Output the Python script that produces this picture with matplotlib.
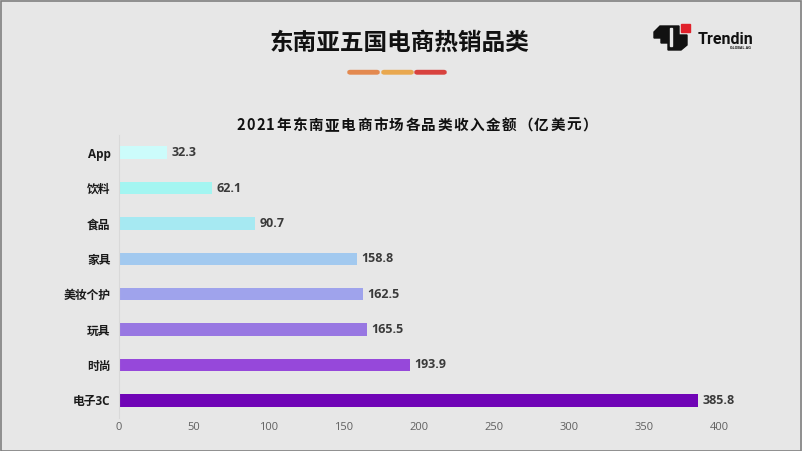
import matplotlib.pyplot as plt
from matplotlib.patches import Rectangle, FancyBboxPatch, Polygon

plt.rcParams['font.family'] = ['Noto Sans CJK SC', 'DejaVu Sans']

categories = ['App', '饮料', '食品', '家具', '美妆个护', '玩具', '时尚', '电子3C']
values = [32.3, 62.1, 90.7, 158.8, 162.5, 165.5, 193.9, 385.8]
colors = ['#ccfcfb', '#a3f5f1', '#a6e9f2', '#a2c9ef', '#9fa3ec', '#9877e2', '#9648da', '#7004b6']
xticks = [0, 50, 100, 150, 200, 250, 300, 350, 400]

title = '东南亚五国电商热销品类'
subtitle = '2021年东南亚电商市场各品类收入金额（亿美元）'

bg = '#e7e7e7'
fig = plt.figure(figsize=(8.02, 4.51), dpi=100, facecolor=bg)

W, H = 802, 451
# axes: x 0..400 -> px 119..719, categories centred from y=153 to y=400
ax = fig.add_axes([119 / W, 1 - 418 / H, 600 / W, 283 / H])
ax.set_facecolor(bg)
ypos = list(range(len(categories)))
ax.barh(ypos, values, height=0.35, color=colors)
ax.set_xlim(0, 400)
ax.set_ylim(len(categories) - 0.5, -0.5)
ax.set_xticks(xticks)
ax.set_yticks(ypos)
ax.set_yticklabels(categories, fontsize=8.5, fontweight='bold', color='#1a1a1a',
                   family=['Open Sans', 'Noto Sans CJK SC'])
ax.tick_params(axis='x', length=0, labelsize=8, labelcolor='#606060', pad=3)
ax.tick_params(axis='y', length=0, pad=6)
for lab in ax.get_xticklabels():
    lab.set_family(['Open Sans', 'DejaVu Sans'])
for s in ['top', 'right', 'bottom']:
    ax.spines[s].set_visible(False)
ax.spines['left'].set_color('#d9d9d9')
ax.spines['left'].set_linewidth(0.8)

for y, v in zip(ypos, values):
    ax.text(v + 3, y, f'{v:.1f}', va='center', ha='left', fontsize=9,
            fontweight='bold', color='#3a3a3a', family=['Open Sans', 'DejaVu Sans'])

# main title
fig.text(400 / W, 1 - 43 / H, title, ha='center', va='center',
         fontsize=17, fontweight='heavy', color='#111111')

# chart title with letter spacing, spread over px 236..597
renderer = fig.canvas.get_renderer()
parts = [fig.text(0, 1 - 125 / H, ch, ha='left', va='center', fontsize=10.5,
                  fontweight='bold', color='#111111') for ch in subtitle]
widths = [t.get_window_extent(renderer).width for t in parts]
gap = (361 - sum(widths)) / (len(parts) - 1)
x = 236
for t, w in zip(parts, widths):
    t.set_x(x / W)
    x += w + gap

# decorative dashes under title
for x0, c in [(348, '#e3894f'), (382, '#e9a84f'), (415, '#d8423e')]:
    fig.patches.append(FancyBboxPatch((x0 / W, 1 - 74 / H), 31 / W, 3.5 / H,
                                      boxstyle='round,pad=0,rounding_size=0.003',
                                      transform=fig.transFigure, color=c))

# logo
def px(pts):
    return [(a / W, 1 - b / H) for a, b in pts]

logo = [(654, 32), (660, 26), (679, 26), (679, 35), (687, 35), (687, 45), (681, 50),
        (668, 50), (668, 43), (661, 43), (661, 38), (654, 38)]
fig.patches.append(Polygon(px(logo), closed=True, transform=fig.transFigure,
                           color='#111111'))
fig.patches.append(Polygon(px([(670, 28), (672, 28), (672, 46), (670, 46)]), closed=True,
                           transform=fig.transFigure, color=bg))
fig.patches.append(Polygon(px([(681, 24), (690, 24), (690, 32), (681, 32)]), closed=True,
                           transform=fig.transFigure, color='#e0202a'))
fig.text(698 / W, 1 - 39 / H, 'Trendin', ha='left', va='center', fontsize=11.5,
         fontweight='bold', color='#111111', family='Roboto')
fig.text(751 / W, 1 - 48 / H, 'GLOBAL AG', ha='right', va='center', fontsize=2.8,
         fontweight='bold', color='#111111', family='Roboto')

# slide frame
fig.patches.append(Rectangle((0.5 / W, 0.5 / H), (W - 1.5) / W, (H - 1.5) / H,
                             transform=fig.transFigure, fill=False,
                             edgecolor='#808080', linewidth=1.2))

fig.savefig('out.png', dpi=100, facecolor=bg)
